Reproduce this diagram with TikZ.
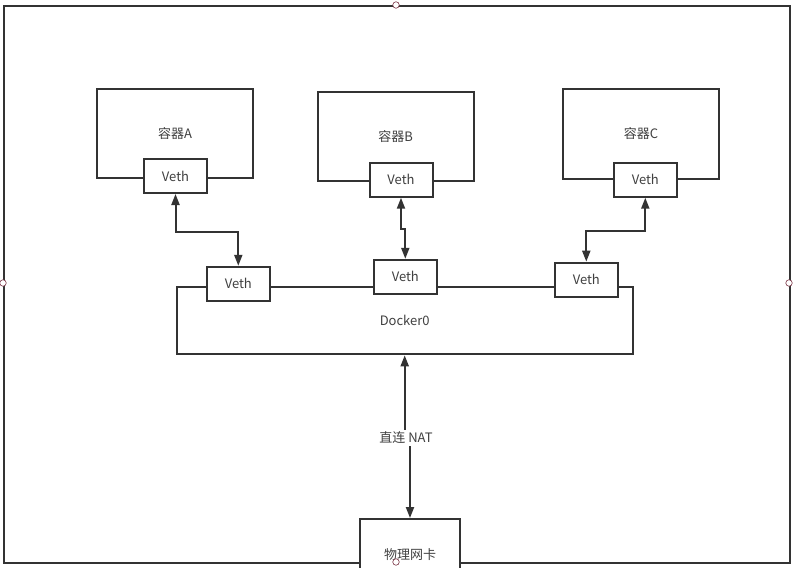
\documentclass[tikz,border=0pt]{standalone}
\usepackage{fontspec}
\setmainfont{Noto Sans CJK SC}
\usetikzlibrary{arrows.meta}
\definecolor{ink}{HTML}{333333}
\definecolor{txt}{HTML}{404040}
\definecolor{dotc}{HTML}{7A3344}
\tikzset{
  box/.style={draw=ink, line width=2pt, fill=white, inner sep=0pt, text=txt, font=\fontsize{13}{15}\selectfont},
  vethbox/.style={box, minimum width=63pt, minimum height=34pt},
  contbox/.style={box, minimum width=156pt, minimum height=89pt},
  link/.style={draw=ink, line width=2pt, {Triangle[length=11pt,width=8pt]}-{Triangle[length=11pt,width=8pt]}},
  onearrow/.style={draw=ink, line width=2pt, -{Triangle[length=11pt,width=8pt]}},
  handle/.style={circle, draw=dotc, fill=white, line width=0.6pt, minimum size=6.5pt, inner sep=0pt},
  lbl/.style={text=txt, font=\fontsize{13}{15}\selectfont, fill=white, inner sep=2pt}
}
\begin{document}
\begin{tikzpicture}[x=1pt, y=-1pt]
\clip (0,0) rectangle (794,567);
\fill[white] (0,0) rectangle (794,567);
% outer frame
\node[draw=ink, line width=2pt, minimum width=786pt, minimum height=557pt, inner sep=0pt, anchor=north west] (frame) at (3,5) {};
% containers
\node[contbox] (ca) at (175,133.8) {容器A};
\node[contbox] (cb) at (395.7,136.8) {容器B};
\node[contbox] (cc) at (641,134) {容器C};
\node[vethbox] (va) at (175.5,176) {Veth};
\node[vethbox] (vb) at (401,179.7) {Veth};
\node[vethbox] (vc) at (645.3,179.7) {Veth};
% docker0 bridge
\node[box, minimum width=456pt, minimum height=67.6pt] (docker) at (404.7,320.5) {Docker0};
\node[vethbox] (d1) at (238.3,283.8) {Veth};
\node[vethbox] (d2) at (405.3,276.8) {Veth};
\node[vethbox] (d3) at (586.3,279.7) {Veth};
% links
\draw[link] (va.south) -- ++(0,37.7) -| (d1.north);
\draw[link] (vb.south) -- ++(0,31) -| (d2.north);
\draw[link] (vc.south) -- ++(0,33.3) -| (d3.north);
% NAT
\node[lbl] (nat) at (406,438) {直连 NAT};
\node[box, minimum width=100pt, minimum height=72pt] (nic) at (410,555) {物理网卡};
\draw[onearrow] (nat.north -| docker.south) -- (docker.south);
\draw[onearrow] (nat.south -| nic.north) -- (nic.north);
% selection handles
\node[handle] (h1) at (396,5) {};
\node[handle] (h2) at (3,283) {};
\node[handle] (h3) at (789,283) {};
\node[handle] (h4) at (396,562) {};
\end{tikzpicture}
\end{document}
